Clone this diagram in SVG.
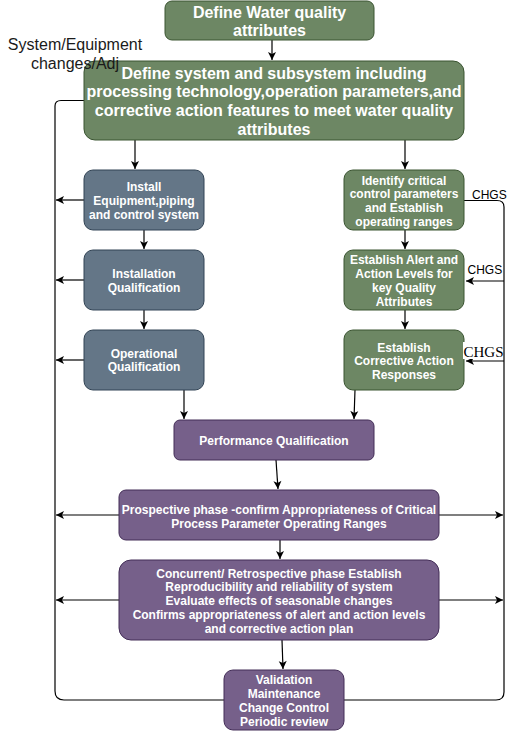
<svg xmlns="http://www.w3.org/2000/svg" width="515" height="731" viewBox="0 0 515 731">
<style>
.g{fill:#6d8764;stroke:#3a5431;stroke-width:1}
.b{fill:#647687;stroke:#314354;stroke-width:1}
.p{fill:#76608a;stroke:#432d57;stroke-width:1}
.t{font-family:"Liberation Sans",Arial,sans-serif;font-weight:bold;fill:#ffffff;text-anchor:middle;font-size:12px}
.t16{font-size:16px}
.c{fill:none;stroke:#000000;stroke-width:1.2}
.lbl{font-family:"Liberation Sans",Arial,sans-serif;font-size:16px;fill:#1a1a1a;text-anchor:middle}
.ch{font-family:"Liberation Sans",Arial,sans-serif;font-size:12px;fill:#000000}
</style>
<defs>
<marker id="ah" markerUnits="userSpaceOnUse" markerWidth="10" markerHeight="10" viewBox="0 0 10 10" refX="9" refY="5" orient="auto">
<path d="M1,1 L9,5 L1,9 L3,5 z" fill="#000"/>
</marker>
</defs>
<rect width="515" height="731" fill="#ffffff"/>
<g id="connectors">
<path class="c" d="M272,40 V60" marker-end="url(#ah)"/>
<path class="c" d="M135,140 V169" marker-end="url(#ah)"/>
<path class="c" d="M405,140 V169" marker-end="url(#ah)"/>
<path class="c" d="M144,230 V249" marker-end="url(#ah)"/>
<path class="c" d="M144,310 V329" marker-end="url(#ah)"/>
<path class="c" d="M405,230 V249" marker-end="url(#ah)"/>
<path class="c" d="M405,310 V329" marker-end="url(#ah)"/>
<path class="c" d="M84,200 H56" marker-end="url(#ah)"/>
<path class="c" d="M84,280 H56" marker-end="url(#ah)"/>
<path class="c" d="M84,360 H56" marker-end="url(#ah)"/>
<path class="c" d="M184,390 V419" marker-end="url(#ah)"/>
<path class="c" d="M355,390 L354,419" marker-end="url(#ah)"/>
<path class="c" d="M276,460 L278,489" marker-end="url(#ah)"/>
<path class="c" d="M119,515 H56" stroke="#555" marker-end="url(#ah)"/>
<path class="c" d="M439,515 H503" marker-end="url(#ah)"/>
<path class="c" d="M280,540 V559" marker-end="url(#ah)"/>
<path class="c" d="M119,600 H56" stroke="#555" marker-end="url(#ah)"/>
<path class="c" d="M439,600 H503" marker-end="url(#ah)"/>
<path class="c" d="M282,640 L283,669" marker-end="url(#ah)"/>
<path class="c" d="M224,700 H64 Q55,700 55,691 V106 Q55,100.5 61,100.5 H84"/>
<path class="c" d="M344,700 H496 Q504,700 504,692 V207 Q504,200.5 497,200.5 H464"/>
<path class="c" d="M504,281 H466" marker-end="url(#ah)"/>
<path class="c" d="M504,361 H466" marker-end="url(#ah)"/>
</g>
<g id="n1">
<rect class="g" x="165" y="1" width="209" height="39" rx="7"/>
<text class="t t16" x="269.5" y="17.5">Define Water quality</text>
<text class="t t16" x="269.5" y="36">attributes</text>
</g>
<g id="n2">
<rect class="g" x="84" y="61" width="380" height="79" rx="11"/>
<text class="t t16" x="274" y="78.5">Define system and subsystem including</text>
<text class="t t16" x="274" y="97.2">processing technology,operation parameters,and</text>
<text class="t t16" x="274" y="115.9">corrective action features to meet water quality</text>
<text class="t t16" x="274" y="134.6">attributes</text>
</g>
<g id="label-changes">
<text class="lbl" x="75" y="49.5">System/Equipment</text>
<text class="lbl" x="75" y="68.5">changes/Adj</text>
</g>
<g id="n3">
<rect class="b" x="84" y="170" width="120" height="60" rx="9"/>
<text class="t" x="144" y="191">Install</text>
<text class="t" x="144" y="204.8">Equipment,piping</text>
<text class="t" x="144" y="218.6">and control system</text>
</g>
<g id="n4">
<rect class="b" x="84" y="250" width="120" height="60" rx="9"/>
<text class="t" x="144" y="278">Installation</text>
<text class="t" x="144" y="291.6">Qualification</text>
</g>
<g id="n5">
<rect class="b" x="84" y="330" width="120" height="60" rx="9"/>
<text class="t" x="144" y="357.6">Operational</text>
<text class="t" x="144" y="371.4">Qualification</text>
</g>
<g id="n6">
<rect class="g" x="344" y="170" width="120" height="60" rx="9"/>
<text class="t" x="404" y="184.5">Identify critical</text>
<text class="t" x="404" y="198.2">control parameters</text>
<text class="t" x="404" y="211.9">and Establish</text>
<text class="t" x="404" y="225.6">operating ranges</text>
</g>
<g id="n7">
<rect class="g" x="344" y="250" width="120" height="60" rx="9"/>
<text class="t" x="404" y="263.6">Establish Alert and</text>
<text class="t" x="404" y="277.6">Action Levels for</text>
<text class="t" x="404" y="291.6">key Quality</text>
<text class="t" x="404" y="305.6">Attributes</text>
</g>
<g id="n8">
<rect class="g" x="344" y="330" width="120" height="60" rx="9"/>
<text class="t" x="404" y="351.5">Establish</text>
<text class="t" x="404" y="365.2">Corrective Action</text>
<text class="t" x="404" y="378.9">Responses</text>
</g>
<g id="n9">
<rect class="p" x="174" y="420" width="200" height="40" rx="6"/>
<text class="t" x="274" y="445">Performance Qualification</text>
</g>
<g id="n10">
<rect class="p" x="119" y="490" width="320" height="50" rx="7"/>
<text class="t" x="279" y="513.6">Prospective phase -confirm Appropriateness of Critical</text>
<text class="t" x="279" y="527.5">Process Parameter Operating Ranges</text>
</g>
<g id="n11">
<rect class="p" x="119" y="560" width="320" height="80" rx="12"/>
<text class="t" x="279" y="577.5">Concurrent/ Retrospective phase Establish</text>
<text class="t" x="279" y="591.3">Reproducibility and reliability of system</text>
<text class="t" x="279" y="605.1">Evaluate effects of seasonable changes</text>
<text class="t" x="279" y="618.9">Confirms appropriateness of alert and action levels</text>
<text class="t" x="279" y="632.7">and corrective action plan</text>
</g>
<g id="n12">
<rect class="p" x="224" y="670" width="120" height="60" rx="9"/>
<text class="t" x="284" y="683.6">Validation</text>
<text class="t" x="284" y="697.7">Maintenance</text>
<text class="t" x="284" y="711.8">Change Control</text>
<text class="t" x="284" y="725.9">Periodic review</text>
</g>
<g id="chgs-labels">
<text class="ch" x="472" y="199">CHGS</text>
<text class="ch" x="467.5" y="273.5">CHGS</text>
<rect x="463" y="342" width="40" height="17" fill="#ffffff"/>
<text x="463.5" y="356.5" font-family="'Liberation Serif','Times New Roman',serif" font-size="15px" fill="#000">CHGS</text>
</g>
</svg>
